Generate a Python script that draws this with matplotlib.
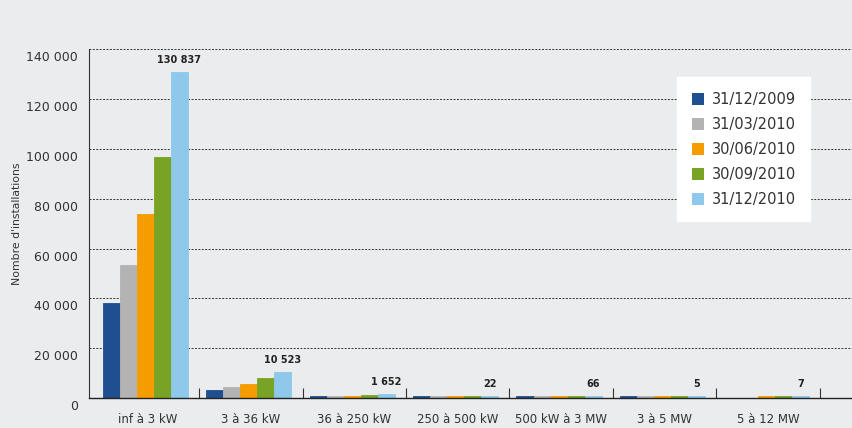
import numpy as np
import matplotlib.pyplot as plt
import matplotlib.transforms as mtransforms

categories = ['inf à 3 kW', '3 à 36 kW', '36 à 250 kW', '250 à 500 kW',
              '500 kW à 3 MW', '3 à 5 MW', '5 à 12 MW']
series = ['31/12/2009', '31/03/2010', '30/06/2010', '30/09/2010', '31/12/2010']

d_2009_12 = [38000, 3200, 300, 5, 15, 1, np.nan]
d_2010_03 = [53300, 4500, 450, 8, 25, 2, np.nan]
d_2010_06 = [73800, 5600, 900, 12, 40, 3, 3]
d_2010_09 = [96600, 8100, 1300, 17, 52, 4, 5]
d_2010_12 = [130837, 10523, 1652, 22, 66, 5, 7]

labels_last = ['130 837', '10 523', '1 652', '22', '66', '5', '7']
colors = ['#1f4f8f', '#b3b3b3', '#f59c00', '#78a324', '#8ec8ea']

values = [d_2009_12, d_2010_03, d_2010_06, d_2010_09, d_2010_12]

# the original chart gives tiny bars a minimum visible thickness
min_h = 800

bg = '#ebeced'
fig = plt.figure(figsize=(8.52, 4.28), dpi=100, facecolor=bg)
ax = fig.add_axes([0.1045, 0.07, 0.8955, 0.815], facecolor=bg)

x = np.arange(len(categories))
w = 0.165
for i, (vals, name, c) in enumerate(zip(values, series, colors)):
    v = np.array(vals, dtype=float)
    shown = np.where(v > 0, np.maximum(v, min_h), np.nan)
    ax.bar(x + (i - 2) * w - 0.02, shown, w, color=c, edgecolor=c,
           linewidth=0.6, label=name, zorder=3)

for xi, txt, v in zip(x, labels_last, d_2010_12):
    ax.annotate(txt, (xi + 2 * w - 0.02, max(v, min_h)), xytext=(0, 5),
                textcoords='offset points', ha='center', va='bottom',
                fontsize=7, fontweight='bold', color='#222222')

ax.set_xlim(-0.563, 6.81)
ax.set_ylim(0, 140000)
ax.set_yticks(np.arange(0, 140001, 20000))
ax.set_yticklabels([f'{v:,}'.replace(',', ' ') for v in range(0, 140001, 20000)])
ax.set_xticks(x)
ax.set_xticklabels(categories)
ax.set_xticks(np.arange(0.5, 7, 1), minor=True)

ax.tick_params(axis='y', length=0, pad=8, labelsize=9, labelcolor='#333333')
ax.tick_params(axis='x', which='major', length=0, pad=11, labelsize=8.5, labelcolor='#333333')
ax.tick_params(axis='x', which='minor', direction='in', length=7, width=0.8, color='#333333')

offset = mtransforms.ScaledTranslation(0, -7 / 100, fig.dpi_scale_trans)
for lab in ax.get_yticklabels():
    lab.set_transform(lab.get_transform() + offset)

ax.grid(axis='y', linestyle=(0, (2, 1.5)), color='#333333', linewidth=0.7, zorder=0)
ax.spines['top'].set_visible(False)
ax.spines['right'].set_visible(False)
ax.spines['left'].set_color('#333333')
ax.spines['left'].set_linewidth(0.8)
ax.spines['bottom'].set_color('#222222')
ax.spines['bottom'].set_linewidth(1.0)
ax.spines['bottom'].set_zorder(4)

ax.set_ylabel("Nombre d'installations", fontsize=7.8, color='#333333', labelpad=3)

leg = ax.legend(loc='upper right', bbox_to_anchor=(0.955, 0.94), frameon=True,
                fancybox=False, edgecolor='white', facecolor='white', framealpha=1,
                fontsize=10.5, handlelength=0.85, handleheight=0.9, handletextpad=0.5,
                borderpad=1.0, labelspacing=0.68, labelcolor='#333333')
for h in leg.legend_handles:
    h.set_linewidth(0)

fig.savefig('out.png', dpi=100, facecolor=bg)
